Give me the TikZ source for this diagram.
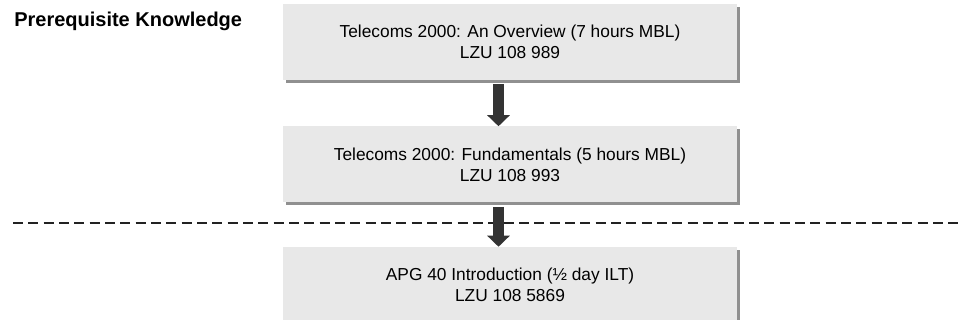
\documentclass[tikz,border=0pt]{standalone}
\usepackage{fontspec}
\setmainfont{Liberation Sans}
\usepackage{tikz}
\usetikzlibrary{arrows.meta, positioning, calc, shadows}
\definecolor{boxFill}{RGB}{232,232,232}
\definecolor{boxShadow}{RGB}{144,144,144}
\definecolor{arrowDark}{RGB}{51,51,51}
\definecolor{lineDark}{RGB}{34,34,34}

\begin{document}
\begin{tikzpicture}[
    x=0.75pt, y=-0.75pt,
    course/.style  = {fill=boxFill, minimum width=340.5pt, minimum height=57pt,
                      inner sep=0pt, align=center, font=\fontsize{13}{15.75}\selectfont,
                      drop shadow={shadow xshift=2.25pt, shadow yshift=-2.25pt,
                                   fill=boxShadow, opacity=1}},
    heading/.style = {anchor=base west, inner sep=0pt,
                      font=\fontsize{15}{18}\selectfont\bfseries},
    flow/.style    = {-{Triangle[length=8.25pt,width=16.5pt]}, line width=8.25pt,
                      draw=arrowDark},
    border/.style  = {draw=lineDark, line width=1.5pt, dash pattern=on 7.5pt off 4pt}
]
\useasboundingbox (0,0) rectangle (959,320);
\clip (0,0) rectangle (959,320);

% Heading on the left
\node[heading] (title) at (14,27) {Prerequisite Knowledge};

% Prerequisite / course boxes
\node[course] (c1) at (510,42) {Telecoms 2000: An Overview (7 hours MBL)\\LZU 108 989};
\node[course] (c2) at (510,164.5) {Telecoms 2000: Fundamentals (5 hours MBL)\\LZU 108 993};

% Dividing line between prerequisites and the course
\coordinate (lineL) at (13,223);
\coordinate (lineR) at (959,223);
\draw[border] (lineL) -- (lineR);

\node[course] (c3) at (510,285) {APG 40 Introduction (\textonehalf\ day ILT)\\LZU 108 5869};

% Arrows, slightly left of the box centres
\draw[flow, shorten <=3pt] ($(c1.south)+(-11.5,0)$) -- ($(c2.north)+(-11.5,0)$);
\draw[flow, shorten <=3pt] ($(c2.south)+(-11.5,0)$) -- ($(c3.north)+(-11.5,0)$);

\end{tikzpicture}
\end{document}
